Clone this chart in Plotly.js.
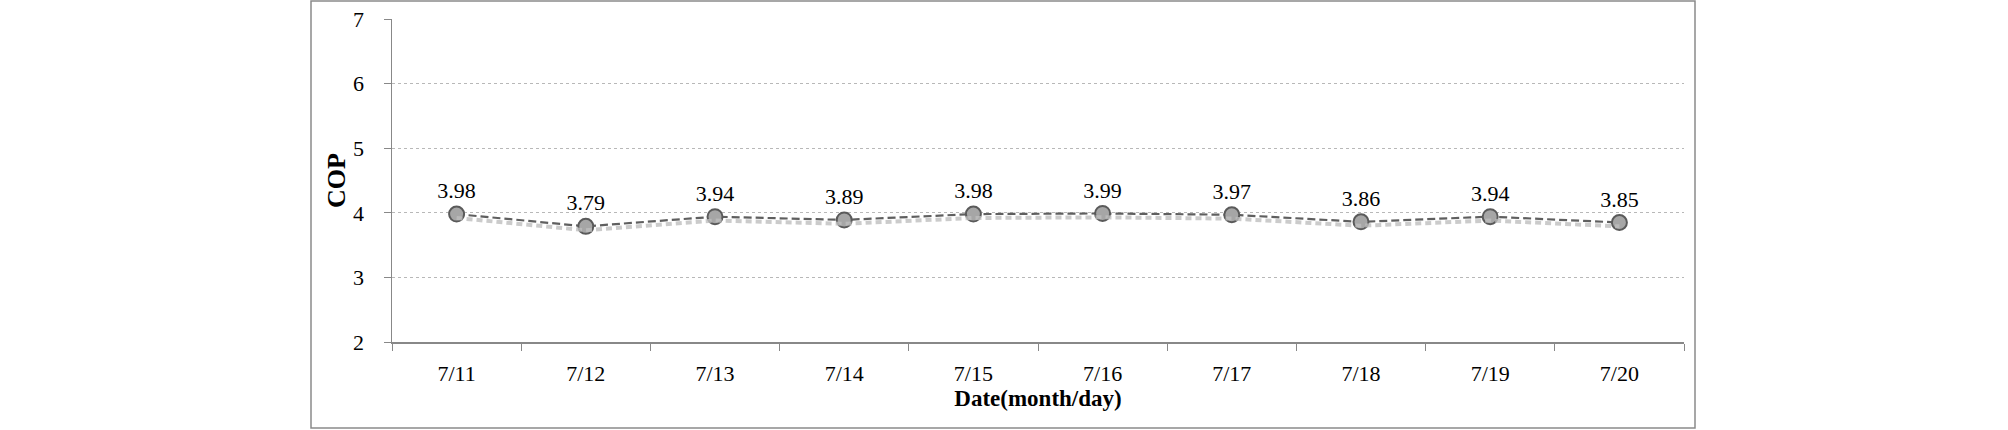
<!DOCTYPE html>
<html>
<head>
<meta charset="utf-8">
<script src="https://cdn.plot.ly/plotly-3.0.1.min.js"></script>
<style>html,body{margin:0;padding:0;background:#fff;}#chart{width:2008px;height:430px;}</style>
</head>
<body>
<div id="chart"></div>
<script>
const dates = ["7/11","7/12","7/13","7/14","7/15","7/16","7/17","7/18","7/19","7/20"];
const cop = [3.98,3.79,3.94,3.89,3.98,3.99,3.97,3.86,3.94,3.85];
const yTicks = [2,3,4,5,6,7];

const serif = "Liberation Serif";

const shadow = {
  x: dates, y: cop, type: "scatter", mode: "lines", yaxis: "y2",
  line: {color: "rgba(190,190,190,0.8)", width: 4, dash: "6px,4px"},
  hoverinfo: "skip", showlegend: false
};
const main = {
  x: dates, y: cop, type: "scatter", mode: "lines+markers+text",
  text: cop.map(v => v.toFixed(2)), textposition: "top center",
  textfont: {family: serif, size: 22, color: "#000"},
  line: {color: "#5f5f5f", width: 2.2, dash: "8px,4px"},
  marker: {size: 15, color: "#a6a6a6", line: {color: "#5a5a5a", width: 2}},
  showlegend: false
};

const layout = {
  width: 2008, height: 430,
  margin: {l: 392, r: 324, t: 19, b: 88},
  paper_bgcolor: "#fff", plot_bgcolor: "#fff",
  font: {family: serif, size: 22, color: "#000"},
  showlegend: false,
  xaxis: {
    type: "category", range: [-0.5, 9.5], tickson: "boundaries", ticks: "outside", ticklen: 7,
    tickcolor: "#888", tickwidth: 1, showgrid: false,
    showline: true, linecolor: "#888", linewidth: 1.5,
    tickfont: {family: serif, size: 22}, ticklabelstandoff: 11,
    title: {text: "<b>Date(month/day)</b>", font: {family: serif, size: 23}, standoff: 2},
    automargin: false, zeroline: false
  },
  yaxis: {
    range: [2, 7], tickvals: yTicks, ticks: "outside", ticklen: 7,
    tickcolor: "#888", tickwidth: 1,
    showline: true, linecolor: "#888", linewidth: 1.5,
    showgrid: true, gridcolor: "#b8b8b8", griddash: "dot", gridwidth: 1,
    tickfont: {family: serif, size: 22}, ticklabelstandoff: 15,
    title: {text: "<b>COP</b>", font: {family: serif, size: 26}, standoff: 0},
    automargin: false, zeroline: false
  },
  yaxis2: {
    overlaying: "y", range: [2.06, 7.06], visible: false, showgrid: false, zeroline: false
  },
  shapes: [{
    type: "rect", xref: "paper", yref: "paper",
    x0: -81/1292, x1: 1 + 11/1292, y0: -86/323, y1: 1 + 18/323,
    line: {color: "#8a8a8a", width: 1.5}, fillcolor: "rgba(0,0,0,0)", layer: "below"
  }]
};

Plotly.newPlot("chart", [shadow, main], layout, {staticPlot: true, displayModeBar: false});
</script>
</body>
</html>
